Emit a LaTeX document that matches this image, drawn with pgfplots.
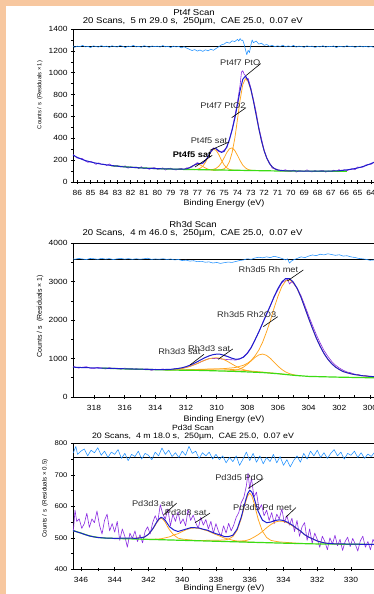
\documentclass[border=0pt]{standalone}
\usepackage{pgfplots}
\pgfplotsset{compat=1.18}
\usepackage{fontspec}
\setmainfont{Liberation Sans}[FakeStretch=1.13]
\newfontfamily\plainsans{Liberation Sans}
\definecolor{peach}{RGB}{247,199,159}
\definecolor{datapurple}{RGB}{138,43,226}
\definecolor{envblue}{RGB}{30,30,205}
\definecolor{comporange}{RGB}{255,165,30}
\definecolor{bggreen}{RGB}{60,220,20}
\definecolor{resblue}{RGB}{30,144,255}
\definecolor{labgray}{RGB}{45,45,45}
\newcommand\fs[1]{\fontsize{#1}{#1}\selectfont}
\tikzset{
  lab/.style={font=\fs{8.2}, text=labgray, anchor=east, inner sep=0pt},
  lead/.style={black, line width=0.6pt}
}
\pgfplotsset{
  xps/.style={scale only axis, x dir=reverse, anchor=south west,
    tick align=center, tick pos=left,
    major tick length=4bp, minor tick length=3bp,
    every tick/.style={black, line width=0.5pt},
    axis line style={black, line width=0.7pt},
    ticklabel style={font=\fs{7.5}, text=black},
    xticklabel style={anchor=center, yshift=-9bp},
    /pgf/number format/assume math mode=true,
    /pgf/number format/1000 sep={},
    scaled ticks=false, clip=true},
  dat/.style={draw=datapurple, line width=0.6pt, no markers, line join=round},
  env/.style={draw=envblue, line width=1.0pt, no markers, line join=round},
  comp/.style={draw=comporange, line width=0.75pt, no markers, line join=round},
  bgl/.style={draw=bggreen, line width=1.2pt, no markers},
  res/.style={draw=resblue, line width=0.55pt, no markers, line join=round},
  zero/.style={draw=black, line width=0.8pt, no markers}
}
\begin{document}
\begin{tikzpicture}
\useasboundingbox (0bp,0bp) rectangle (374bp,594bp);
\fill[peach] (0bp,0bp) rectangle (374bp,594bp);
\fill[white] (6bp,0bp) rectangle (374bp,588bp);
% ---------- titles ----------
\node[font=\fs{8.5}] at (194bp,582bp) {Pt4f Scan};
\node[font=\fs{8.5}] at (192.8bp,573bp) {20 Scans,\ \ 5 m 29.0 s,\ \ 250µm,\ \ CAE 25.0,\ \ 0.07 eV};
\node[font=\fs{8}] at (224bp,390.7bp) {Binding Energy (eV)};
\node[font=\plainsans\fs{5.8}, rotate=90] at (40bp,499bp) {Counts / s\ \ (Residuals × 1)};
\node[font=\fs{8.5}] at (193bp,369.7bp) {Rh3d Scan};
\node[font=\fs{8.5}] at (192.5bp,360.7bp) {20 Scans,\ \ 4 m 46.0 s,\ \ 250µm,\ \ CAE 25.0,\ \ 0.07 eV};
\node[font=\fs{8}] at (224bp,174.7bp) {Binding Energy (eV)};
\node[font=\plainsans\fs{7}, rotate=90] at (40bp,278bp) {Counts / s\ \ (Residuals × 1)};
\node[font=\fs{7.6}, inner sep=0pt] at (193bp,166.6bp) {Pd3d Scan};
\node[font=\fs{7.8}, inner sep=0pt] at (193bp,157.6bp) {20 Scans,\ \ 4 m 18.0 s,\ \ 250µm,\ \ CAE 25.0,\ \ 0.07 eV};
\node[font=\fs{8}] at (224bp,6bp) {Binding Energy (eV)};
\node[font=\plainsans\fs{6.2}, rotate=90] at (45bp,95.5bp) {Counts / s\ \ (Residuals × 0.5)};
% ---------- Panel 1: Pt4f ----------
\begin{axis}[xps, at={(73bp,412bp)}, width=302.5bp, height=153bp,
  xmin=63.66, xmax=86.32, ymin=0, ymax=1400,
  xtick={64,65,...,86}, minor x tick num=1,
  ytick={0,200,...,1400}, minor y tick num=1]
\addplot[zero] coordinates {(63.66,1238) (86.32,1238)};
\addplot[res] coordinates {(86.3,1245)(86.2,1232)(86.0,1243)(85.8,1238)(85.6,1250)(85.4,1236)(85.2,1241)(85.0,1229)(84.8,1246)(84.6,1240)(84.4,1234)(84.2,1248)(84.0,1237)(83.8,1244)(83.6,1231)(83.4,1247)(83.2,1239)(83.0,1235)(82.8,1249)(82.6,1242)(82.4,1230)(82.2,1244)(82.0,1238)(81.8,1251)(81.6,1236)(81.4,1241)(81.2,1233)(81.0,1247)(80.8,1240)(80.6,1232)(80.4,1245)(80.2,1238)(80.0,1243)(79.8,1234)(79.6,1249)(79.4,1237)(79.2,1242)(79.0,1230)(78.8,1244)(78.6,1236)(78.4,1240)(78.2,1228)(78.0,1238)(77.8,1225)(77.6,1214)(77.4,1203)(77.2,1212)(77.0,1198)(76.8,1208)(76.6,1195)(76.4,1210)(76.2,1200)(76.0,1215)(75.8,1205)(75.6,1222)(75.4,1238)(75.2,1255)(75.0,1262)(74.8,1280)(74.6,1270)(74.4,1292)(74.2,1285)(74.0,1305)(73.9,1290)(73.8,1312)(73.7,1295)(73.6,1298)(73.5,1260)(73.4,1210)(73.3,1165)(73.2,1205)(73.1,1185)(73.0,1250)(72.9,1300)(72.8,1275)(72.6,1290)(72.4,1262)(72.2,1270)(72.0,1250)(71.8,1258)(71.6,1242)(71.4,1250)(71.2,1238)(71.0,1246)(70.8,1240)(70.6,1252)(70.4,1236)(70.2,1245)(70.0,1239)(69.8,1250)(69.6,1234)(69.4,1243)(69.2,1240)(69.0,1232)(68.8,1246)(68.6,1238)(68.4,1244)(68.2,1231)(68.0,1240)(67.8,1236)(67.6,1247)(67.4,1233)(67.2,1241)(67.0,1238)(66.8,1245)(66.6,1230)(66.4,1242)(66.2,1239)(66.0,1235)(65.8,1247)(65.6,1238)(65.4,1243)(65.2,1232)(65.0,1240)(64.8,1244)(64.6,1236)(64.4,1242)(64.2,1235)(64.0,1240)(63.8,1233)(63.66,1238)};
\addplot[dat] coordinates {(86.3,250)(86.2,241)(86.0,218)(85.8,217)(85.6,214)(85.4,192)(85.2,180)(85.0,189)(84.8,179)(84.6,161)(84.4,176)(84.2,161)(84.0,164)(83.8,151)(83.6,165)(83.4,149)(83.2,140)(83.0,152)(82.8,138)(82.6,142)(82.4,147)(82.2,126)(82.0,138)(81.8,132)(81.6,137)(81.4,123)(81.2,140)(81.0,123)(80.8,127)(80.6,116)(80.4,129)(80.2,131)(80.0,116)(79.8,119)(79.6,130)(79.4,109)(79.2,123)(79.0,126)(78.8,115)(78.6,110)(78.4,120)(78.2,124)(78.0,113)(77.8,130)(77.6,129)(77.4,137)(77.2,160)(77.0,178)(76.8,165)(76.6,168)(76.4,200)(76.2,222)(76.0,277)(75.8,313)(75.6,303)(75.4,277)(75.2,275)(75.0,292)(74.8,315)(74.6,392)(74.4,485)(74.2,602)(74.0,730)(73.8,890)(73.7,1005)(73.6,1018)(73.5,985)(73.4,975)(73.3,940)(73.2,948)(73.0,862)(72.8,753)(72.6,640)(72.4,500)(72.2,396)(72.0,291)(71.8,218)(71.6,176)(71.4,127)(71.2,123)(71.0,115)(70.8,99)(70.6,105)(70.4,112)(70.2,99)(70.0,95)(69.8,109)(69.6,90)(69.4,104)(69.2,102)(69.0,95)(68.8,111)(68.6,98)(68.4,92)(68.2,105)(68.0,95)(67.8,102)(67.6,107)(67.4,90)(67.2,101)(67.0,98)(66.8,108)(66.6,96)(66.4,113)(66.2,102)(66.0,113)(65.8,103)(65.6,116)(65.4,122)(65.2,112)(65.0,137)(64.8,133)(64.6,136)(64.4,155)(64.2,161)(64.0,161)(63.8,179)(63.66,190)};
\addplot[comp] coordinates {(78.4,116)(78.0,115)(77.8,120)(77.6,130)(77.4,144)(77.2,157)(77.0,163)(76.8,157)(76.6,142)(76.4,128)(76.2,117)(76.0,111)(75.6,110)};
\addplot[comp] coordinates {(77.4,114)(77.2,113)(77.0,117)(76.8,125)(76.6,144)(76.4,179)(76.2,226)(76.0,274)(75.8,300)(75.6,290)(75.4,251)(75.2,200)(75.0,156)(74.8,129)(74.6,115)(74.4,110)(74.2,107)(73.8,106)};
\addplot[comp] coordinates {(76.4,112)(76.0,113)(75.8,116)(75.6,125)(75.4,144)(75.2,176)(75.0,221)(74.8,269)(74.6,304)(74.4,312)(74.2,288)(74.0,244)(73.8,195)(73.6,154)(73.4,129)(73.2,114)(73.0,108)(72.8,105)(72.4,104)};
\addplot[comp] coordinates {(76.0,111)(75.6,110)(75.4,111)(75.2,113)(75.0,121)(74.8,141)(74.6,186)(74.4,269)(74.2,399)(74.0,571)(73.8,752)(73.6,892)(73.4,946)(73.2,919)(73.0,846)(72.8,739)(72.6,614)(72.4,488)(72.2,376)(72.0,285)(71.8,217)(71.6,169)(71.4,139)(71.2,120)(71.0,110)(70.8,105)(70.6,102)(70.4,101)(70.0,100)};
\addplot[bgl] coordinates {(83.5,150)(82,135)(80,122)(78,115)(77,113)(76,111)(75,109)(74,107)(73,105)(72,103)(71,101)(70,100)(68,99)(66,98)(65.8,98)};
\addplot[env] coordinates {(86.32,246)(86.0,225)(85.5,200)(85.0,183)(84.5,170)(84.0,160)(83.5,152)(83.0,145)(82.5,138)(82.0,135)(81.0,127)(80.0,122)(79.0,119)(78.4,118)(78.0,118)(77.8,121)(77.6,130)(77.4,144)(77.2,157)(77.0,167)(76.8,169)(76.6,174)(76.4,195)(76.2,232)(76.0,276)(75.8,305)(75.6,305)(75.4,286)(75.2,271)(75.0,280)(74.8,321)(74.6,389)(74.4,475)(74.2,580)(74.0,708)(73.8,840)(73.6,940)(73.4,969)(73.2,928)(73.0,849)(72.8,739)(72.6,614)(72.4,488)(72.2,376)(72.0,285)(71.8,217)(71.6,169)(71.4,139)(71.2,120)(71.0,110)(70.5,103)(70.0,101)(69.0,100)(68.0,99)(67.0,100)(66.5,102)(66.0,108)(65.5,116)(65.0,128)(64.5,145)(64.0,168)(63.66,186)};
\draw[lead] (axis cs:73.35,975) -- (axis cs:72.26,1083);
\node[lab] at (axis cs:72.28,1092) {Pt4f7 PtO};
\draw[lead] (axis cs:74.43,589) -- (axis cs:73.36,680);
\node[lab] at (axis cs:73.38,695) {Pt4f7 PtO2};
\draw[lead] (axis cs:76.06,290) -- (axis cs:74.62,366);
\node[lab] at (axis cs:74.75,378) {Pt4f5 sat};
\draw[lead] (axis cs:77.18,137) -- (axis cs:75.89,244);
\node[lab, font=\bfseries\fs{8.2}, text=black] at (axis cs:75.95,255) {Pt4f5 sat};
\end{axis}
% ---------- Panel 2: Rh3d ----------
\begin{axis}[xps, at={(73bp,197bp)}, width=302.5bp, height=154bp,
  xmin=299.64, xmax=319.37, ymin=0, ymax=4000,
  xtick={300,302,...,318}, minor x tick num=1,
  ytick={0,1000,...,4000}, minor y tick num=1]
\addplot[zero] coordinates {(299.64,3570) (319.37,3570)};
\addplot[res] coordinates {(319.35,3590)(319.25,3575)(319,3600)(318.75,3585)(318.5,3570)(318.25,3598)(318,3590)(317.75,3575)(317.5,3602)(317.25,3580)(317,3595)(316.75,3570)(316.5,3588)(316.25,3600)(316,3580)(315.75,3595)(315.5,3575)(315.25,3592)(315,3578)(314.75,3590)(314.5,3604)(314.25,3575)(314,3586)(313.75,3578)(313.5,3592)(313.25,3572)(313,3585)(312.75,3560)(312.5,3572)(312.25,3545)(312,3555)(311.75,3530)(311.5,3540)(311.25,3515)(311,3525)(310.75,3500)(310.5,3510)(310.25,3480)(310,3495)(309.75,3470)(309.5,3490)(309.25,3505)(309,3495)(308.75,3520)(308.5,3545)(308.25,3560)(308,3590)(307.75,3575)(307.5,3610)(307.25,3630)(307,3615)(306.75,3640)(306.5,3620)(306.25,3655)(306,3630)(305.75,3600)(305.5,3560)(305.375,3590)(305.25,3480)(305.125,3530)(305,3560)(304.75,3600)(304.5,3640)(304.25,3620)(304,3660)(303.75,3690)(303.5,3670)(303.25,3710)(303,3690)(302.75,3720)(302.5,3700)(302.25,3680)(302,3695)(301.75,3660)(301.5,3670)(301.25,3640)(301,3625)(300.75,3600)(300.5,3590)(300.25,3575)(300,3550)(299.75,3560)(299.64,3530)};
\addplot[dat] coordinates {(319.35,790)(319.25,785)(319.0,751)(318.75,773)(318.5,787)(318.25,749)(318.0,741)(317.75,768)(317.5,753)(317.25,728)(317.0,765)(316.75,734)(316.5,749)(316.25,721)(316.0,751)(315.75,725)(315.5,710)(315.25,737)(315.0,711)(314.75,725)(314.5,730)(314.25,690)(314.0,721)(313.75,709)(313.5,728)(313.25,700)(313.0,709)(312.75,734)(312.5,732)(312.25,741)(312.0,773)(311.75,794)(311.5,833)(311.25,869)(311.0,918)(310.75,959)(310.5,997)(310.25,999)(310.0,1003)(309.75,990)(309.5,980)(309.25,971)(309.0,966)(308.75,959)(308.5,986)(308.25,1045)(308.0,1147)(307.75,1291)(307.5,1486)(307.25,1683)(307.0,1927)(306.75,2137)(306.5,2375)(306.25,2592)(306.0,2788)(305.75,2967)(305.5,3028)(305.375,3060)(305.25,2935)(305.125,2990)(305.0,2954)(304.75,2830)(304.5,2633)(304.25,2380)(304.0,2112)(303.75,1860)(303.5,1620)(303.25,1403)(303.0,1210)(302.75,1057)(302.5,926)(302.25,827)(302.0,753)(301.75,696)(301.5,650)(301.25,628)(301.0,592)(300.75,583)(300.5,548)(300.25,554)(300.0,525)(299.75,533)(299.64,520)};
\addplot[comp] coordinates {(312,707)(311,715)(310,726)(309.5,738)(309,757)(308.75,768)(308.5,796)(308.25,824)(308.0,874)(307.75,948)(307.5,1068)(307.25,1219)(307.0,1425)(306.75,1690)(306.5,1979)(306.25,2317)(306.0,2618)(305.75,2867)(305.5,3013)(305.25,3043)(305.0,2970)(304.75,2816)(304.5,2593)(304.25,2321)(304.0,2042)(303.75,1780)(303.5,1530)(303.25,1318)(303.0,1130)(302.75,982)(302.5,866)(302.25,777)(302.0,713)(301.75,661)(301.5,630)(301.25,603)(301.0,582)(300.75,568)(300.5,553)(300.25,544)(300.0,535)(299.64,525)};
\addplot[comp] coordinates {(309.5,674)(309.25,676)(309.0,682)(308.75,696)(308.5,725)(308.25,776)(308.0,849)(307.75,938)(307.5,1027)(307.25,1093)(307.0,1115)(306.75,1082)(306.5,1004)(306.25,904)(306.0,802)(305.75,715)(305.5,650)(305.25,607)(305.0,579)(304.75,560)(304.5,551)};
\addplot[comp] coordinates {(313.5,708)(313.0,709)(312.75,716)(312.5,726)(312.25,741)(312.0,764)(311.75,794)(311.5,831)(311.25,873)(311.0,918)(310.75,959)(310.5,993)(310.25,1014)(310.0,1019)(309.75,1004)(309.5,967)(309.25,915)(309.0,856)(308.75,799)(308.5,750)(308.25,712)(308.0,684)(307.75,664)(307.5,651)(307.25,643)(307.0,636)};
\addplot[comp] coordinates {(313.5,707)(313,703)(312.5,705)(312,707)(311.5,714)(311,720)(310.5,725)(310,726)(309.5,724)(309,715)(308.5,700)(308,682)(307.5,664)(307,647)(306.5,627)(306,608)(305.5,587)};
\addplot[bgl] coordinates {(317.5,750)(316,730)(315,720)(314,710)(313,700)(311,690)(309,668)(307,635)(306,605)(305,565)(304,535)(302,515)(300,500)(299.64,497)};
\addplot[env] coordinates {(319.37,775)(319,768)(318.5,762)(318,756)(317.5,750)(317,745)(316.5,739)(316,733)(315.5,728)(315,723)(314.5,718)(314,713)(313.5,713)(313.25,715)(313.0,719)(312.75,729)(312.5,742)(312.25,761)(312.0,788)(311.75,824)(311.5,868)(311.25,919)(311.0,973)(310.75,1024)(310.5,1067)(310.25,1099)(310.0,1113)(309.75,1110)(309.5,1080)(309.25,1046)(309.0,1006)(308.75,979)(308.5,991)(308.25,1035)(308.0,1132)(307.75,1281)(307.5,1481)(307.25,1693)(307.0,1917)(306.75,2152)(306.5,2370)(306.25,2612)(306.0,2818)(305.75,2987)(305.5,3078)(305.25,3075)(305.0,2984)(304.75,2820)(304.5,2593)(304.25,2320)(304.0,2042)(303.75,1780)(303.5,1530)(303.25,1318)(303.0,1130)(302.75,982)(302.5,866)(302.25,777)(302.0,713)(301.75,661)(301.5,630)(301.25,603)(301.0,582)(300.75,568)(300.5,553)(300.25,544)(300.0,535)(299.64,526)};
\draw[lead] (axis cs:305.39,3013) -- (axis cs:304.35,3299);
\node[lab] at (axis cs:304.67,3310) {Rh3d5 Rh met};
\draw[lead] (axis cs:306.96,1826) -- (axis cs:306.02,2086);
\node[lab] at (axis cs:306.1,2140) {Rh3d5 Rh2O3};
\draw[lead] (axis cs:309.9,979) -- (axis cs:308.95,1247);
\node[lab] at (axis cs:309.1,1270) {Rh3d3 sat};
\draw[lead] (axis cs:311.74,831) -- (axis cs:310.83,1109);
\node[lab] at (axis cs:311.05,1180) {Rh3d3 sat};
\end{axis}
% ---------- Panel 3: Pd3d ----------
\begin{axis}[xps, at={(73bp,24.7bp)}, width=302.5bp, height=126bp,
  xmin=328.55, xmax=346.47, ymin=400, ymax=800,
  xtick={330,332,...,346}, minor x tick num=1,
  ytick={400,500,...,800}, minor y tick num=1,
  yticklabel style={font=\fs{6.8}}]
\addplot[zero] coordinates {(328.55,756) (346.47,756)};
\addplot[res] coordinates {(346.45,770)(346.3,790)(346.2,765)(346.0,775)(345.8,782)(345.6,760)(345.4,778)(345.2,770)(345.0,786)(344.8,762)(344.6,775)(344.4,755)(344.2,772)(344.0,765)(343.8,780)(343.6,752)(343.4,768)(343.2,745)(343.0,765)(342.8,758)(342.6,775)(342.4,750)(342.2,768)(342.0,762)(341.8,748)(341.6,772)(341.4,760)(341.2,785)(341.0,765)(340.8,778)(340.6,758)(340.4,770)(340.2,755)(340.0,775)(339.8,762)(339.6,790)(339.4,768)(339.2,775)(339.0,752)(338.8,770)(338.6,760)(338.4,772)(338.2,750)(338.0,765)(337.8,748)(337.6,760)(337.4,738)(337.2,755)(337.0,742)(336.8,760)(336.6,730)(336.4,750)(336.2,772)(336.0,745)(335.8,768)(335.6,740)(335.4,760)(335.2,735)(335.0,755)(334.8,742)(334.6,765)(334.4,738)(334.2,758)(334.0,730)(333.8,748)(333.6,725)(333.4,745)(333.2,760)(333.0,740)(332.8,768)(332.6,750)(332.4,775)(332.2,760)(332.0,778)(331.8,755)(331.6,770)(331.4,752)(331.2,768)(331.0,780)(330.8,760)(330.6,772)(330.4,750)(330.2,768)(330.0,762)(329.8,775)(329.6,755)(329.4,770)(329.2,752)(329.0,766)(328.8,758)(328.6,772)};
\addplot[dat] coordinates {(346.45,520)(346.35,588)(346.25,552)(346.1,560)(345.95,530)(345.8,545)(345.65,578)(345.5,533)(345.35,560)(345.2,548)(345.05,585)(344.9,540)(344.75,512)(344.6,556)(344.45,575)(344.3,522)(344.15,545)(344.0,518)(343.85,552)(343.7,492)(343.55,528)(343.4,505)(343.25,470)(343.1,515)(342.95,498)(342.8,522)(342.65,488)(342.5,510)(342.35,484)(342.2,520)(342.05,535)(341.9,512)(341.75,548)(341.6,570)(341.45,550)(341.3,605)(341.15,575)(341.0,560)(340.85,592)(340.7,538)(340.55,575)(340.4,552)(340.25,582)(340.1,545)(339.95,560)(339.8,538)(339.65,590)(339.5,555)(339.35,572)(339.2,548)(339.05,530)(338.9,565)(338.75,540)(338.6,558)(338.45,528)(338.3,552)(338.15,515)(338.0,545)(337.85,520)(337.7,505)(337.55,538)(337.4,515)(337.25,546)(337.1,522)(336.95,540)(336.8,565)(336.65,580)(336.5,612)(336.35,628)(336.2,665)(336.1,705)(336.0,655)(335.9,690)(335.75,630)(335.6,645)(335.45,590)(335.3,605)(335.15,570)(335.0,588)(334.85,555)(334.7,580)(334.55,545)(334.4,575)(334.25,560)(334.1,592)(333.95,548)(333.8,570)(333.65,540)(333.5,562)(333.35,520)(333.2,555)(333.05,505)(332.9,535)(332.75,548)(332.6,492)(332.45,528)(332.3,482)(332.15,515)(332.0,495)(331.85,470)(331.7,505)(331.55,488)(331.4,462)(331.25,500)(331.1,480)(330.95,508)(330.8,475)(330.65,495)(330.5,460)(330.35,488)(330.2,502)(330.05,472)(329.9,498)(329.75,480)(329.6,458)(329.45,490)(329.3,505)(329.15,470)(329.0,488)(328.85,462)(328.7,495)(328.55,480)};
\addplot[comp] coordinates {(339,491)(338.5,492)(338.0,492)(337.5,493)(337.25,496)(337.0,504)(336.75,523)(336.5,561)(336.375,587)(336.25,612)(336.125,633)(336.0,642)(335.875,633)(335.75,612)(335.625,585)(335.5,559)(335.25,521)(335.0,501)(334.75,492)(334.5,489)(334.25,487)(334.0,486)(333.5,484)(333.0,482)};
\addplot[comp] coordinates {(337.0,488)(336.75,488)(336.5,490)(336.25,491)(336.0,495)(335.75,502)(335.5,510)(335.25,520)(335.0,532)(334.75,542)(334.5,550)(334.25,553)(334.0,552)(333.75,547)(333.5,539)(333.25,530)(333.0,521)(332.75,510)(332.5,502)(332.25,496)(332.0,490)(331.75,486)(331.5,483)(331.25,482)(331.0,481)(330.5,480)};
\addplot[comp] coordinates {(343.0,498)(342.5,500)(342.25,502)(342.0,511)(341.75,527)(341.625,537)(341.5,549)(341.375,558)(341.25,562)(341.125,558)(341.0,549)(340.875,536)(340.75,525)(340.5,509)(340.25,499)(340.0,496)(339.5,493)(339.0,491)};
\addplot[comp] coordinates {(342.0,495)(341.5,496)(341.25,497)(341.0,500)(340.75,503)(340.5,509)(340.25,513)(340.0,520)(339.75,526)(339.5,530)(339.25,531)(339.0,530)(338.75,526)(338.5,522)(338.25,516)(338.0,510)(337.75,505)(337.5,499)(337.25,496)(337.0,492)(336.75,490)(336.5,489)(336.0,486)(335.5,485)};
\addplot[bgl] coordinates {(346.47,523)(346,515)(345.5,506)(345,501)(344.5,499)(344,498)(342,495)(340,492)(338,489)(336,486)(334,483)(332,480.5)(330,479.5)(328.55,479)};
\addplot[env] coordinates {(346.47,523)(346.25,519)(346.0,515)(345.75,510)(345.5,506)(345.25,503)(345.0,501)(344.75,500)(344.5,499)(344.25,499)(344.0,498)(343.5,499)(343.0,499)(342.75,498)(342.5,500)(342.25,502)(342.0,511)(341.75,528)(341.5,551)(341.375,560)(341.25,565)(341.125,562)(341.0,555)(340.75,535)(340.5,525)(340.25,520)(340.0,524)(339.75,528)(339.5,532)(339.25,532)(339.0,531)(338.75,527)(338.5,524)(338.25,518)(338.0,513)(337.75,509)(337.5,504)(337.25,504)(337.0,508)(336.75,527)(336.5,566)(336.375,592)(336.25,618)(336.125,640)(336.0,651)(335.875,645)(335.75,628)(335.625,605)(335.5,584)(335.25,556)(335.0,548)(334.75,550)(334.5,555)(334.25,557)(334.0,555)(333.75,549)(333.5,541)(333.25,531)(333.0,522)(332.75,510)(332.5,502)(332.25,496)(332.0,490)(331.75,486)(331.5,483)(331.0,481)(330.0,480)(329.0,479)(328.55,479)};
\draw[lead] (axis cs:336.09,657) -- (axis cs:335.2,688);
\node[lab] at (axis cs:335.2,690) {Pd3d5 PdO};
\draw[lead] (axis cs:333.87,565) -- (axis cs:333.26,596);
\node[lab] at (axis cs:333.5,597) {Pd3d5 Pd met};
\draw[lead] (axis cs:341.12,572) -- (axis cs:340.33,610);
\node[lab] at (axis cs:340.5,609) {Pd3d3 sat};
\draw[lead] (axis cs:339.24,548) -- (axis cs:338.36,578);
\node[lab] at (axis cs:338.55,579) {Pd3d3 sat};
\end{axis}
\end{tikzpicture}
\end{document}
